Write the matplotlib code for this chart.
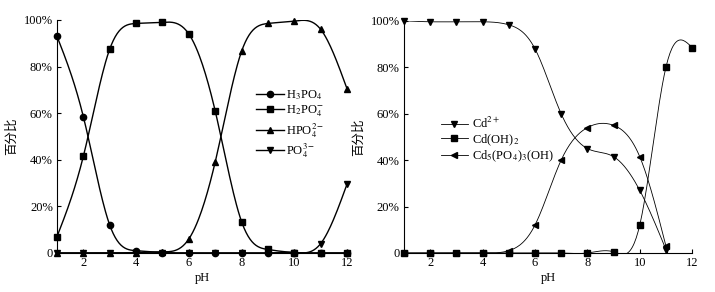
import numpy as np
import matplotlib
matplotlib.use("Agg")
import matplotlib.pyplot as plt
from matplotlib.ticker import FuncFormatter

plt.rcParams['font.family'] = ['Liberation Serif', 'Noto Sans CJK SC']
plt.rcParams['mathtext.fontset'] = 'stix'
plt.rcParams['font.size'] = 9

# left panel: phosphate species vs pH
ph = [1, 2, 3, 4, 5, 6, 7, 8, 9, 10, 11, 12]
h3po4 = [93, 58.5, 12, 1, 0.2, 0, 0, 0, 0, 0, 0, 0]
h2po4 = [7, 41.5, 87.5, 98.5, 99, 94, 61, 13.5, 1.5, 0.2, 0, 0]
hpo4 = [0, 0, 0, 0.2, 0.5, 6, 39, 86.5, 98.5, 99.5, 96, 70.5]
po4 = [0, 0, 0, 0, 0, 0, 0, 0, 0, 0.2, 4, 29.5]

# right panel: Cd species vs pH
ph_cd = [1, 2, 3, 4, 5, 6, 7, 8, 9, 10, 11]
cd2 = [100, 99.6, 99.6, 99.6, 98.3, 88, 60, 45, 41.5, 27, 1.5]
cd5 = [0, 0, 0, 0, 1, 12, 40, 54, 55, 41.5, 3]
cdoh2 = [0, 0, 0, 0, 0, 0, 0, 0, 0.5, 12, 80, 88.5]


def spline(x, y, n=300, xmax=None):
    # natural cubic spline through the points
    x = np.asarray(x, float)
    y = np.asarray(y, float)
    k = len(x)
    h = np.diff(x)
    A = np.zeros((k, k))
    b = np.zeros(k)
    A[0, 0] = A[-1, -1] = 1
    for i in range(1, k - 1):
        A[i, i - 1] = h[i - 1]
        A[i, i] = 2 * (h[i - 1] + h[i])
        A[i, i + 1] = h[i]
        b[i] = 6 * ((y[i + 1] - y[i]) / h[i] - (y[i] - y[i - 1]) / h[i - 1])
    M = np.linalg.solve(A, b)
    end = x[-1] if xmax is None else xmax
    xs = np.linspace(x[0], end, n)
    idx = np.clip(np.searchsorted(x, xs) - 1, 0, k - 2)
    x0, x1 = x[idx], x[idx + 1]
    hh = x1 - x0
    ys = (M[idx] * (x1 - xs) ** 3 / (6 * hh) + M[idx + 1] * (xs - x0) ** 3 / (6 * hh)
          + (y[idx] / hh - M[idx] * hh / 6) * (x1 - xs)
          + (y[idx + 1] / hh - M[idx + 1] * hh / 6) * (xs - x0))
    return xs, ys


def style(ax):
    ax.set_xlim(1, 12)
    ax.set_ylim(0, 100)
    ax.set_xticks([2, 4, 6, 8, 10, 12])
    ax.set_yticks([0, 20, 40, 60, 80, 100])
    ax.yaxis.set_major_formatter(FuncFormatter(lambda v, p: "0" if v == 0 else "%d%%" % v))
    ax.tick_params(direction='in', length=3, width=0.8, labelsize=9, pad=3)
    ax.spines['top'].set_visible(False)
    ax.spines['right'].set_visible(False)
    ax.set_xlabel("pH", fontsize=9, labelpad=2)
    ax.set_ylabel("百分比", fontsize=9, labelpad=4)


fig = plt.figure(figsize=(7.15, 2.92), dpi=100)
ax1 = fig.add_axes([0.0797, 0.1336, 0.4056, 0.798])
ax2 = fig.add_axes([0.565, 0.1336, 0.403, 0.795])

series1 = [(h3po4, 'o', r'H$_3$PO$_4$'), (h2po4, 's', r'H$_2$PO$_4^{-}$'),
           (hpo4, '^', r'HPO$_4^{2-}$'), (po4, 'v', r'PO$_4^{3-}$')]
for vals, mk, lab in series1:
    xs, ys = spline(ph, vals)
    ax1.plot(xs, ys, color='black', lw=1.0)
    ax1.plot(ph, vals, linestyle='none', marker=mk, color='black', markersize=4.5, clip_on=False)
    ax1.plot([], [], color='black', lw=1.0, marker=mk, markersize=4.5, label=lab)
style(ax1)
ax1.legend(loc='upper left', bbox_to_anchor=(0.67, 0.73), frameon=False, fontsize=9,
           handlelength=2.2, handletextpad=0.2, labelspacing=0.15, borderaxespad=0)

series2 = [(ph_cd, cd2, 'v', r'Cd$^{2+}$', 11.1), (ph, cdoh2, 's', r'Cd(OH)$_2$', None),
           (ph_cd, cd5, '<', r'Cd$_5$(PO$_4$)$_3$(OH)', 11.1)]
for xv, vals, mk, lab, xm in series2:
    xs, ys = spline(xv, vals, xmax=xm)
    ax2.plot(xs, ys, color='black', lw=0.6)
    ax2.plot(xv, vals, linestyle='none', marker=mk, color='black', markersize=4.5, clip_on=False)
    ax2.plot([], [], color='black', lw=0.6, marker=mk, markersize=4.5, label=lab)
style(ax2)
ax2.legend(loc='upper left', bbox_to_anchor=(0.11, 0.61), frameon=False, fontsize=9,
           handlelength=2.2, handletextpad=0.3, labelspacing=0.05, borderaxespad=0)

fig.savefig("out.png", dpi=100)
